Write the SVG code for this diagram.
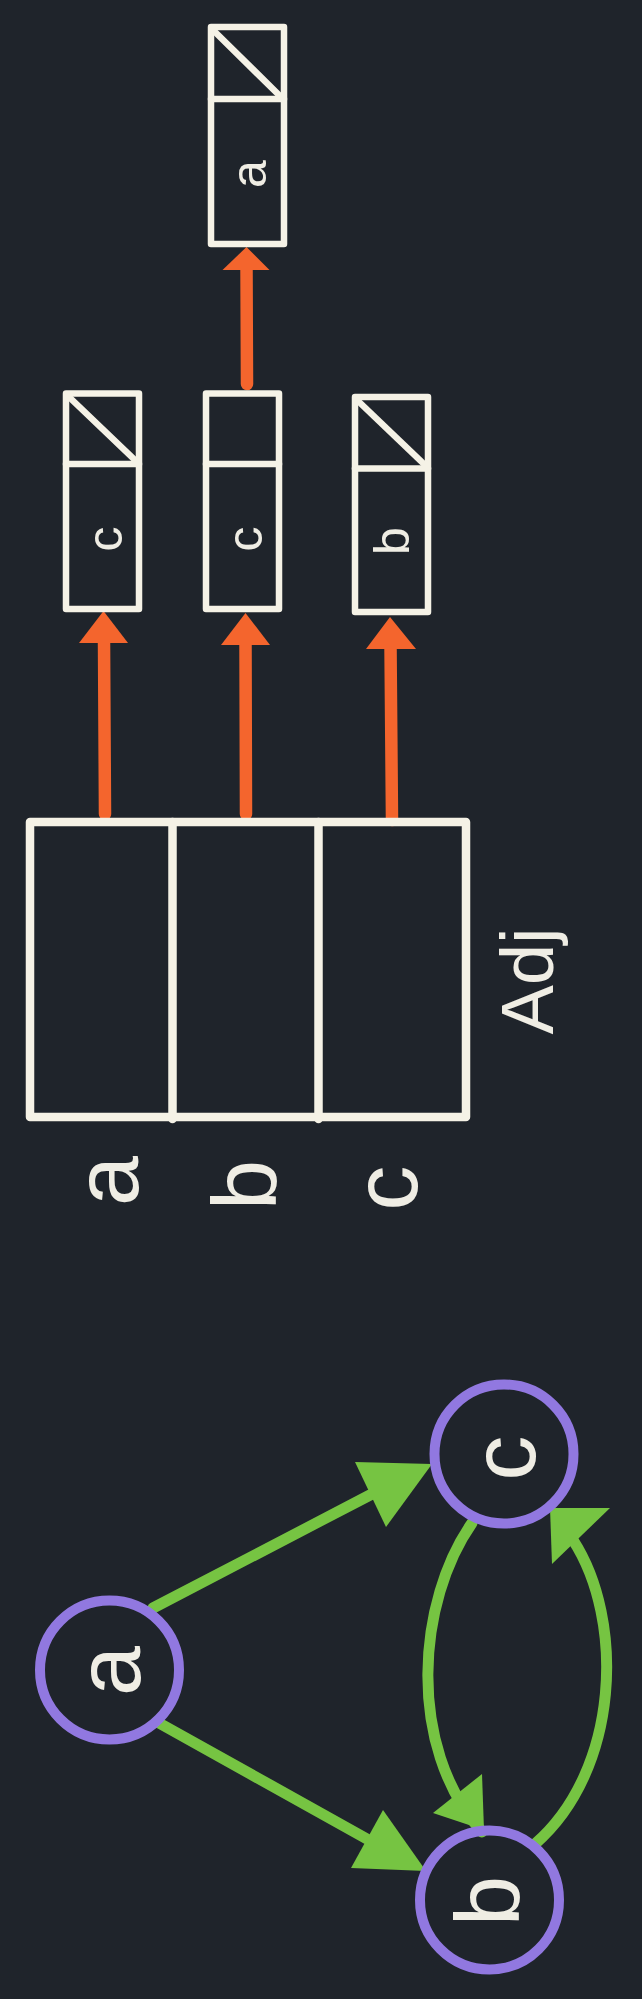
<svg xmlns="http://www.w3.org/2000/svg" width="642" height="1999" viewBox="0 0 642 1999">
  <style>
    .box { fill: none; stroke: #f5f2e6; stroke-width: 6.5; stroke-linejoin: round; stroke-linecap: round; }
    .arr { fill: none; stroke: #f5f2e6; stroke-width: 8.5; stroke-linejoin: round; stroke-linecap: round; }
    .lbl { fill: #efede4; font-family: "Liberation Sans", Arial, sans-serif; text-anchor: middle; }
    .sm { font-size: 50px; }
    .lg { font-size: 90px; }
    .adj { font-size: 74px; }
    .node { fill: none; stroke: #9178e0; stroke-width: 10; }
    .ol { stroke: #f4652d; stroke-width: 12.5; stroke-linecap: round; fill: none; }
    .oh { fill: #f4652d; }
    .gl { stroke: #76c442; stroke-width: 11; stroke-linecap: round; fill: none; }
    .gh { fill: #76c442; }
  </style>
  <rect x="0" y="0" width="642" height="1999" fill="#1f242b"/>

  <g id="connectors">
    <line class="ol" x1="105" y1="814" x2="104" y2="640"/>
    <polygon class="oh" points="103.5,611 79,643 128,643"/>
    <line class="ol" x1="246" y1="814" x2="245.5" y2="640"/>
    <polygon class="oh" points="245.5,613 221,645 270,645"/>
    <line class="ol" x1="392" y1="820" x2="390.5" y2="645"/>
    <polygon class="oh" points="390,617 366,649 416,649"/>
    <line class="ol" x1="247" y1="384" x2="246.5" y2="266"/>
    <polygon class="oh" points="246.5,247 222.5,270 269.5,270"/>
    <line class="gl" x1="153" y1="1608" x2="372" y2="1494"/>
    <polygon class="gh" points="355,1462 432,1464 386,1527"/>
    <line class="gl" x1="159" y1="1723" x2="367" y2="1839"/>
    <polygon class="gh" points="351,1868 426,1871 383,1810"/>
    <path class="gl" d="M472,1523 C418,1600 405,1745 482,1832"/>
    <polygon class="gh" points="433,1813 482,1774 484,1830"/>
    <path class="gl" d="M535,1844 C620,1770 625,1620 573,1540"/>
    <polygon class="gh" points="550,1508 610,1508 552,1564"/>
  </g>

  <g id="adj-array">
    <rect class="arr" x="30" y="822" width="436" height="295"/>
    <line class="arr" x1="172.5" y1="822" x2="172.5" y2="1119"/>
    <line class="arr" x1="318.5" y1="822" x2="318.5" y2="1119"/>
    <text class="lbl adj" transform="translate(553,981) rotate(-90)">Adj</text>
  </g>

  <g id="index-labels">
    <text class="lbl lg" transform="translate(138,1181) rotate(-90)">a</text>
    <text class="lbl lg" transform="translate(276,1185) rotate(-90)">b</text>
    <text class="lbl lg" transform="translate(417,1188) rotate(-90)">c</text>
  </g>

  <g id="list-a-c">
    <rect class="box" x="66" y="393.5" width="73" height="215.5"/>
    <line class="box" x1="66" y1="464" x2="139" y2="464"/>
    <line class="box" x1="68" y1="396" x2="137" y2="462"/>
    <text class="lbl sm" transform="translate(122,539) rotate(-90)">c</text>
  </g>

  <g id="list-b-c">
    <rect class="box" x="206" y="393.5" width="73" height="215.5"/>
    <line class="box" x1="206" y1="464" x2="279" y2="464"/>
    <text class="lbl sm" transform="translate(262,539) rotate(-90)">c</text>
  </g>

  <g id="list-b-a">
    <rect class="box" x="211" y="27" width="73" height="217"/>
    <line class="box" x1="211" y1="99" x2="284" y2="99"/>
    <line class="box" x1="213" y1="30" x2="281" y2="97"/>
    <text class="lbl sm" transform="translate(266,174) rotate(-90)">a</text>
  </g>

  <g id="list-c-b">
    <rect class="box" x="355" y="397" width="73" height="215"/>
    <line class="box" x1="355" y1="468.5" x2="428" y2="468.5"/>
    <line class="box" x1="357" y1="400" x2="426" y2="466"/>
    <text class="lbl sm" transform="translate(409,541) rotate(-90)">b</text>
  </g>

  <g id="node-a">
    <circle class="node" cx="109.5" cy="1670" r="69.5"/>
    <text class="lbl lg" transform="translate(140,1671) rotate(-90)">a</text>
  </g>
  <g id="node-b">
    <circle class="node" cx="489.5" cy="1900" r="69.5"/>
    <text class="lbl lg" transform="translate(519,1901) rotate(-90)">b</text>
  </g>
  <g id="node-c">
    <circle class="node" cx="504" cy="1454" r="69.5"/>
    <text class="lbl lg" transform="translate(535,1458) rotate(-90)">c</text>
  </g>
</svg>
